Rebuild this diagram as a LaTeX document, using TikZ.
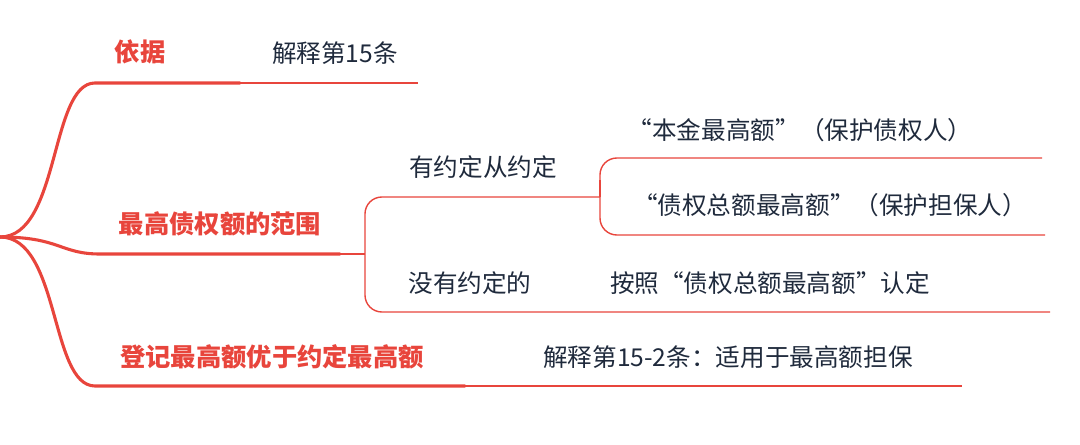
\documentclass[tikz,border=0pt]{standalone}
\usepackage{fontspec}
\setmainfont{Noto Sans CJK SC}
\definecolor{mapred}{HTML}{E8453C}
\definecolor{ink}{HTML}{1F2A3C}
\begin{document}
\begin{tikzpicture}[x=0.025cm,y=-0.025cm]
  \tikzset{
    main/.style={font=\bfseries\fontsize{18}{21}\selectfont, text=mapred},
    sub/.style={font=\fontsize{17.5}{21}\selectfont, text=ink},
    thick line/.style={draw=mapred, line width=2.2pt, line cap=round},
    thin line/.style={draw=mapred, line width=1pt, rounded corners=12}
  }
  \useasboundingbox (0,0) rectangle (1080,445);

  % root and first level
  \coordinate (root) at (0,237);
  \node[main] (basis) at (140,52) {依据};
  \node[main] (scope) at (220,224) {最高债权额的范围};
  \node[main] (reg) at (272,357) {登记最高额优于约定最高额};

  \draw[thick line] (root) .. controls (60,237) and (50,83) .. (95,83) -- (240,83);
  \draw[thick line] (root) .. controls (60,237) and (60,254) .. (100,254) -- (340,254);
  \draw[thick line] (root) .. controls (60,237) and (50,386) .. (95,386) -- (465,386);

  % second level
  \node[sub] (art15) at (335,53) {解释第15条};
  \node[sub] (agreed) at (483,167) {有约定从约定};
  \node[sub] (none) at (470,283) {没有约定的};
  \node[sub] (art152) at (728,357) {解释第15-2条：适用于最高额担保};
  \draw[thin line] (240,83) -- (418,83);
  \draw[thin line] (465,386) -- (962,386);
  \draw[thin line] (340,254) -- (365,254);
  \draw[thin line] (600,197) -- (365,197) -- (365,312) -- (1050,312);

  % third level
  \node[sub] (principal) at (800,130) {“本金最高额”（保护债权人）};
  \node[sub] (total) at (830,205) {“债权总额最高额”（保护担保人）};
  \node[sub] (rule) at (770,283) {按照“债权总额最高额”认定};
  \draw[thin line] (1042,158) -- (600,158) -- (600,235) -- (1045,235);
  \draw[thin line] (600,197) -- (600,180);
\end{tikzpicture}
\end{document}
